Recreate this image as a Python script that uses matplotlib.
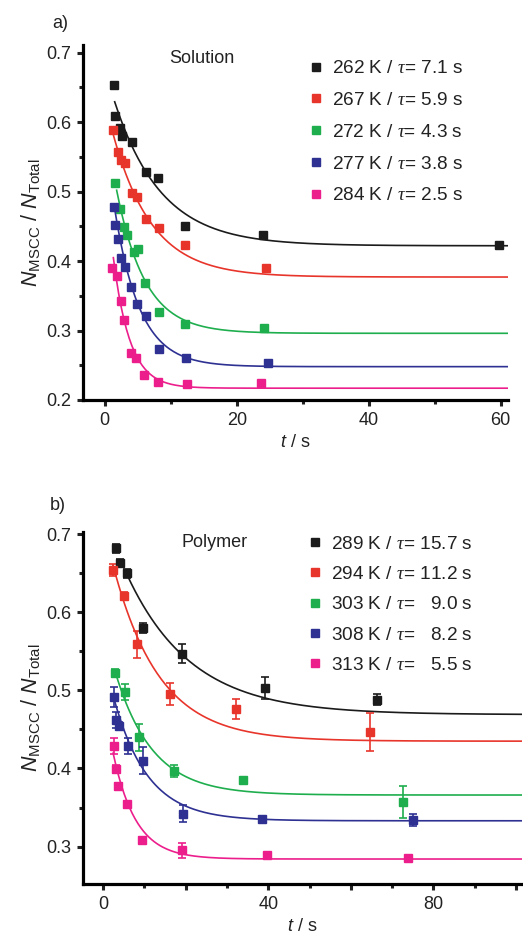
import matplotlib.pyplot as plt
import numpy as np
from matplotlib.lines import Line2D
from matplotlib.ticker import MultipleLocator, FuncFormatter

plt.rcParams["font.family"] = ["Liberation Sans", "DejaVu Sans"]
plt.rcParams["mathtext.fontset"] = "custom"
plt.rcParams["mathtext.rm"] = "Liberation Sans"
plt.rcParams["mathtext.sf"] = "Liberation Sans:italic"
plt.rcParams["mathtext.it"] = "Liberation Serif:italic"
plt.rcParams["text.color"] = "#222222"
plt.rcParams["axes.labelcolor"] = "#222222"

colores = ["#1b1b1b", "#e8352b", "#1fae4e", "#2e3192", "#ec1e8c"]

# ---- a) Solution ----
temps_sol = [262, 267, 272, 277, 284]
tau_sol = [7.1, 5.9, 4.3, 3.8, 2.5]
sol_t = [
    [1.4, 1.6, 2.3, 2.6, 4.1, 6.2, 8.0, 12.1, 24.0, 59.8],
    [1.3, 2.0, 2.5, 3.1, 4.1, 4.9, 6.2, 8.2, 12.2, 24.4],
    [1.6, 2.3, 2.9, 3.4, 4.4, 5.0, 6.1, 8.2, 12.2, 24.1],
    [1.4, 1.5, 2.0, 2.5, 3.1, 4.0, 4.9, 6.2, 8.2, 12.3, 24.8],
    [1.1, 1.9, 2.4, 2.9, 3.9, 4.8, 5.9, 8.0, 12.5, 23.6],
]
sol_n = [
    [0.654, 0.609, 0.591, 0.580, 0.572, 0.528, 0.520, 0.450, 0.437, 0.423],
    [0.588, 0.557, 0.545, 0.541, 0.498, 0.492, 0.461, 0.447, 0.423, 0.390],
    [0.513, 0.475, 0.449, 0.437, 0.413, 0.417, 0.369, 0.327, 0.309, 0.303],
    [0.478, 0.452, 0.432, 0.404, 0.391, 0.363, 0.338, 0.321, 0.273, 0.260, 0.253],
    [0.390, 0.378, 0.342, 0.315, 0.268, 0.260, 0.236, 0.226, 0.223, 0.224],
]
# ajuste: n = n_inf + amp * exp(-t / tau)
sol_inf = [0.422, 0.377, 0.296, 0.248, 0.217]
sol_amp = [0.256, 0.255, 0.313, 0.337, 0.316]
sol_t0 = [1.5, 1.2, 1.8, 1.5, 1.3]

# ---- b) Polymer ----
temps_pol = [289, 294, 303, 308, 313]
tau_pol = [15.7, 11.2, 9.0, 8.2, 5.5]
pol_t = [
    [3.0, 4.1, 5.8, 9.6, 19.0, 39.2, 66.4],
    [2.4, 5.1, 8.1, 16.2, 32.1, 64.7],
    [2.8, 5.4, 8.7, 17.2, 34.0, 72.7],
    [2.7, 3.2, 3.8, 5.9, 9.6, 19.4, 38.4, 75.1],
    [2.6, 3.0, 3.6, 5.7, 9.3, 19.2, 39.7, 73.9],
]
pol_n = [
    [0.682, 0.663, 0.650, 0.580, 0.547, 0.503, 0.488],
    [0.654, 0.621, 0.559, 0.495, 0.476, 0.447],
    [0.522, 0.498, 0.440, 0.397, 0.385, 0.357],
    [0.492, 0.462, 0.454, 0.429, 0.410, 0.342, 0.335, 0.334],
    [0.429, 0.399, 0.377, 0.354, 0.308, 0.295, 0.289, 0.285],
]
pol_err = [
    [0.006, 0.005, 0.006, 0.006, 0.012, 0.014, 0.007],
    [0.008, 0.005, 0.017, 0.014, 0.013, 0.024],
    [0.005, 0.010, 0.017, 0.008, 0.0, 0.021],
    [0.013, 0.010, 0.005, 0.010, 0.017, 0.011, 0.004, 0.008],
    [0.010, 0.005, 0.004, 0.004, 0.004, 0.010, 0.003, 0.003],
]
pol_inf = [0.469, 0.435, 0.366, 0.333, 0.284]
pol_amp = [0.259, 0.279, 0.218, 0.215, 0.210]
pol_t0 = [5.8, 2.4, 2.9, 2.7, 2.4]

fig = plt.figure(figsize=(5.23, 9.4), dpi=100)
ax_a = fig.add_axes([83 / 523, 1 - 400 / 940, 425 / 523, 355 / 940])
ax_b = fig.add_axes([83 / 523, 1 - 884 / 940, 439 / 523, 352 / 940])


def estilo_ejes(ax):
    for lado in ["top", "right"]:
        ax.spines[lado].set_visible(False)
    for lado in ["left", "bottom"]:
        ax.spines[lado].set_linewidth(2.3)
    ax.tick_params(which="major", direction="out", length=4.5, width=2.2,
                   labelsize=13, colors="#222222", pad=4)
    ax.tick_params(which="minor", direction="out", length=2.8, width=2.2,
                   colors="#222222")
    ax.set_ylabel(r"$\mathsf{N}_{\mathrm{MSCC}}$ / $\mathsf{N}_{\mathrm{Total}}$",
                  fontsize=15.5, labelpad=3)
    ax.set_xlabel(r"$\mathsf{t}$ / s", fontsize=13, labelpad=4)


# Panel a
for i in range(5):
    ax_a.plot(sol_t[i], sol_n[i], "s", color=colores[i], ms=6)
    tt = np.linspace(sol_t0[i], 61, 300)
    ax_a.plot(tt, sol_inf[i] + sol_amp[i] * np.exp(-tt / tau_sol[i]),
              color=colores[i], lw=1.2)

ax_a.set_xlim(-3.3, 61.1)
ax_a.set_ylim(0.2, 0.711)
ax_a.xaxis.set_major_locator(MultipleLocator(20))
ax_a.xaxis.set_minor_locator(MultipleLocator(10))
ax_a.yaxis.set_major_locator(MultipleLocator(0.1))
ax_a.yaxis.set_minor_locator(MultipleLocator(0.05))
ax_a.yaxis.set_major_formatter(FuncFormatter(lambda v, p: f"{v:.1f}"))
estilo_ejes(ax_a)

etiquetas_a = [f"{k} K / $\\tau$= {t:.1f} s" for k, t in zip(temps_sol, tau_sol)]
manijas = [Line2D([], [], marker="s", ls="none", color=c, ms=6) for c in colores]
ax_a.legend(manijas, etiquetas_a, loc="upper left", bbox_to_anchor=(0.53, 0.958),
            frameon=False, fontsize=13.7, handlelength=0.8, handletextpad=0.45,
            labelspacing=0.76, borderpad=0, borderaxespad=0)
ax_a.text(0.28, 0.963, "Solution", transform=ax_a.transAxes, fontsize=13,
          ha="center", va="center")
fig.text(60 / 523, 1 - 23 / 940, "a)", fontsize=13, ha="center", va="center")

# Panel b
for i in range(5):
    ax_b.errorbar(pol_t[i], pol_n[i], yerr=pol_err[i], fmt="s", color=colores[i],
                  ms=6, capsize=3, elinewidth=1.2, capthick=1.2)
    tt = np.linspace(pol_t0[i], 102, 300)
    ax_b.plot(tt, pol_inf[i] + pol_amp[i] * np.exp(-tt / tau_pol[i]),
              color=colores[i], lw=1.2)

ax_b.set_xlim(-4.9, 101.5)
ax_b.set_ylim(0.252, 0.703)
ax_b.xaxis.set_major_locator(MultipleLocator(20))
ax_b.xaxis.set_minor_locator(MultipleLocator(10))
ax_b.xaxis.set_major_formatter(FuncFormatter(lambda v, p: f"{v:.0f}" if round(v) % 40 == 0 else ""))
ax_b.yaxis.set_major_locator(MultipleLocator(0.1))
ax_b.yaxis.set_minor_locator(MultipleLocator(0.05))
ax_b.yaxis.set_major_formatter(FuncFormatter(lambda v, p: f"{v:.1f}"))
estilo_ejes(ax_b)

etiquetas_b = []
for k, t in zip(temps_pol, tau_pol):
    relleno = " " if t >= 10 else "   "
    etiquetas_b.append(f"{k} K / $\\tau$={relleno}{t:.1f} s")
ax_b.legend(manijas, etiquetas_b, loc="upper left", bbox_to_anchor=(0.51, 0.99),
            frameon=False, fontsize=13.7, handlelength=0.8, handletextpad=0.45,
            labelspacing=0.68, borderpad=0, borderaxespad=0)
ax_b.text(0.3, 0.97, "Polymer", transform=ax_b.transAxes, fontsize=13,
          ha="center", va="center")
fig.text(58 / 523, 1 - 505 / 940, "b)", fontsize=13, ha="center", va="center")

fig.savefig("out.png", dpi=100)
